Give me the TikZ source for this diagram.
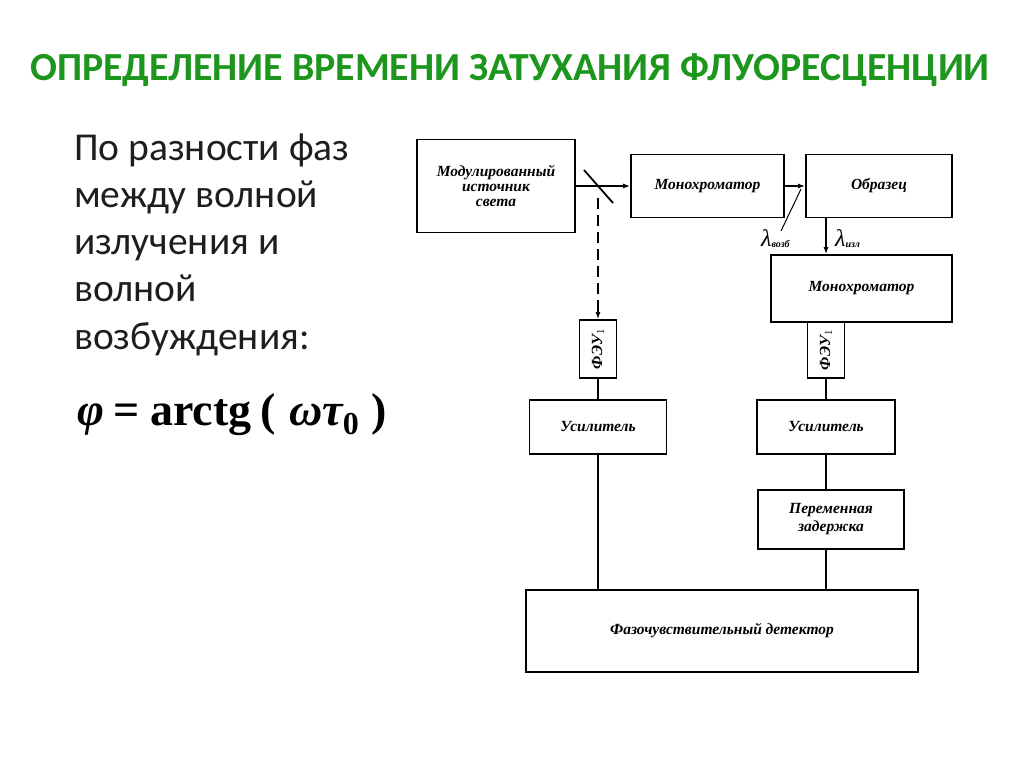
\documentclass[tikz,border=0pt]{standalone}
\usepackage{fontspec}
\setmainfont{Carlito}
\newfontfamily\diagfont{Liberation Serif}
\usetikzlibrary{arrows.meta}
\definecolor{titlegreen}{RGB}{28,150,28}
\definecolor{bodytext}{RGB}{30,30,30}
\tikzset{
  blk/.style={draw=black, line width=1.7pt, inner sep=1pt, align=center,
    font=\diagfont\itshape\bfseries\fontsize{15.5}{15}\selectfont},
  wire/.style={line width=1.8pt},
  arr/.style={line width=1.5pt, -{Latex[length=7pt,width=5pt]}},
  lefttext/.style={anchor=base west, inner sep=0pt, text=bodytext,
    font=\fontsize{39.5}{44}\selectfont},
  lam/.style={anchor=base west, inner sep=0pt,
    font=\diagfont\itshape\fontsize{24}{26}\selectfont},
}
\begin{document}
\begin{tikzpicture}[x=1pt,y=-1pt]
\useasboundingbox (0,0) rectangle (1024,768);
% title
\node[anchor=base, inner sep=0pt, text=titlegreen,
  font=\bfseries\fontsize{39.8}{42}\selectfont] (title) at (510,81)
  {ОПРЕДЕЛЕНИЕ ВРЕМЕНИ ЗАТУХАНИЯ ФЛУОРЕСЦЕНЦИИ};
% left text
\node[lefttext] (l1) at (74,160) {По разности фаз};
\node[lefttext] (l2) at (74,207) {между волной};
\node[lefttext] (l3) at (74,254) {излучения и};
\node[lefttext] (l4) at (74,301) {волной};
\node[lefttext] (l5) at (74,349) {возбуждения:};
\node[anchor=base west, inner sep=0pt, font=\diagfont\bfseries\fontsize{46}{48}\selectfont] (formula) at (77,425)
  {{\itshape φ}\hspace{9pt}=\hspace{11pt}arctg\hspace{9pt}(\hspace{14pt}{\itshape ωτ}\raisebox{-9pt}{\fontsize{32}{34}\selectfont 0}\hspace{13pt})};
% blocks
\node[blk, minimum width=158pt, minimum height=93pt] (src) at (496,186)
  {Модулированный\\источник\\света};
\node[blk, minimum width=153pt, minimum height=63pt] (mono1) at (707.5,186) {Монохроматор};
\node[blk, minimum width=146pt, minimum height=63pt] (sample) at (879,186) {Образец};
\node[blk, minimum width=181pt, minimum height=67pt] (mono2) at (861.5,288.5) {Монохроматор};
\node[blk, minimum width=37pt, minimum height=58pt] (feu1) at (598,349) {\rotatebox{90}{ФЭУ$_1$}};
\node[blk, minimum width=37pt, minimum height=56pt] (feu2) at (826,350) {\rotatebox{90}{ФЭУ$_1$}};
\node[blk, minimum width=137pt, minimum height=54pt] (amp1) at (598,427) {Усилитель};
\node[blk, minimum width=138pt, minimum height=54pt] (amp2) at (826,427) {Усилитель};
\node[blk, minimum width=146pt, minimum height=59pt, font=\diagfont\itshape\bfseries\fontsize{15.5}{18}\selectfont] (delay) at (831,519.5)
  {Переменная\\задержка};
\node[blk, minimum width=392pt, minimum height=82pt] (det) at (722,631)
  {Фазочувствительный детектор};
% mirror and beams
\coordinate (mA) at (584,170);
\coordinate (mB) at (613,203);
\coordinate (ds) at (598,198);
\coordinate (dend) at (598,310);
\draw[wire] (mA) -- (mB);
\draw[arr] (src.east) -- (mono1.west);
\draw[line width=1.6pt, dash pattern=on 11pt off 6pt] (ds) -- (dend);
\draw[arr] (dend) -- (feu1.north);
\draw[arr] (mono1.east) -- (sample.west);
\draw[arr] (sample.south -| feu2) -- (mono2.north -| feu2);
% lambda pointer and labels
\coordinate (lp) at (801,189);
\coordinate (lq) at (781,231);
\draw[line width=1pt] (lp) -- (lq);
\node[lam] (lexc) at (761,246)
  {λ\raisebox{-1pt}{\fontsize{10}{11}\selectfont\bfseries возб}};
\node[lam] (lem) at (835,246)
  {λ\raisebox{-1pt}{\fontsize{10}{11}\selectfont\bfseries изл}};
% wires
\draw[wire] (feu1.south) -- (amp1.north);
\draw[wire] (feu2.south) -- (feu2.south |- amp2.north);
\draw[wire] (amp1.south) -- (amp1.south |- det.north);
\draw[wire] (amp2.south) -- (amp2.south |- delay.north);
\draw[wire] (delay.south -| amp2) -- (amp2 |- det.north);
\end{tikzpicture}
\end{document}
